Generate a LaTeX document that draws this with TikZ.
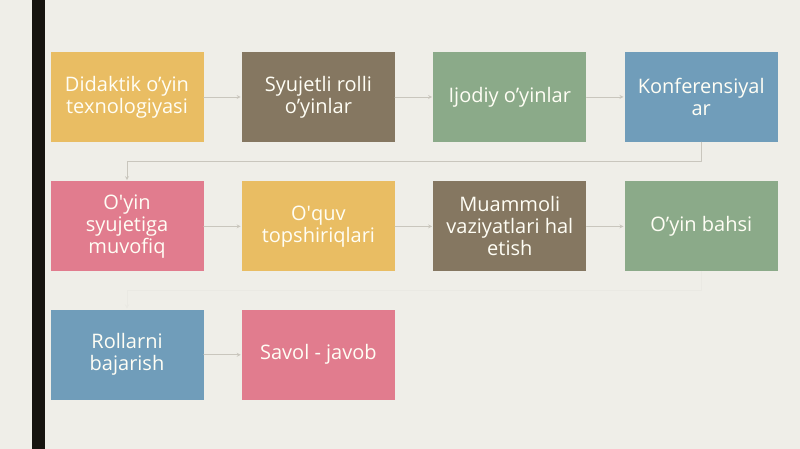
\documentclass[tikz,border=0pt]{standalone}
\usepackage{fontspec}
\setmainfont{Open Sans}
\usetikzlibrary{positioning}
\definecolor{bgpaper}{HTML}{EFEEE8}
\definecolor{barblack}{HTML}{16140F}
\definecolor{cyellow}{HTML}{E9BD63}
\definecolor{cbrown}{HTML}{857761}
\definecolor{cgreen}{HTML}{8BAA89}
\definecolor{cblue}{HTML}{709DBA}
\definecolor{cpink}{HTML}{E17C8E}
\definecolor{clink}{HTML}{C9C6BD}
\begin{document}
\begin{tikzpicture}[x=1pt,y=1pt,>=stealth, line join=round, line cap=round,
	node distance=38pt and 38pt,
	box/.style={minimum width=153pt, minimum height=90pt, inner sep=0pt, align=center, text=white!96!yellow, font=\fontsize{20}{22}\selectfont},
	link/.style={->, draw=clink, line width=0.8pt, shorten >=1pt}]
	\def\W{800} \def\H{449}
	\fill[bgpaper] (0,0) rectangle (\W,\H);
	\useasboundingbox (0,0) rectangle (\W,\H);
	\fill[barblack] (32,0) rectangle (45,\H);
	% row 1
	\node[box, fill=cyellow] (didaktik) at (127,352) {Didaktik o’yin\\texnologiyasi};
	\node[box, fill=cbrown, right=of didaktik] (syujetli) {Syujetli rolli\\o’yinlar};
	\node[box, fill=cgreen, right=of syujetli] (ijodiy) {Ijodiy o’yinlar};
	\node[box, fill=cblue, right=of ijodiy] (konf) {Konferensiyal\\ar};
	% row 2
	\node[box, fill=cpink, below=39pt of didaktik] (muvofiq) {O\textquotesingle yin\\syujetiga\\muvofiq};
	\node[box, fill=cyellow, right=of muvofiq] (topshiriq) {O\textquotesingle quv\\topshiriqlari};
	\node[box, fill=cbrown, right=of topshiriq] (muammoli) {Muammoli\\vaziyatlari hal\\etish};
	\node[box, fill=cgreen, right=of muammoli] (bahs) {O’yin bahsi};
	% row 3
	\node[box, fill=cblue, below=of muvofiq] (rollar) {Rollarni\\bajarish};
	\node[box, fill=cpink, right=of rollar] (savol) {Savol - javob};
	% connectors
	\draw[link] (didaktik) -- (syujetli);
	\draw[link] (syujetli) -- (ijodiy);
	\draw[link] (ijodiy) -- (konf);
	\draw[link] (konf.south) -- ++(0,-19.5) -| (muvofiq.north);
	\draw[link] (muvofiq) -- (topshiriq);
	\draw[link] (topshiriq) -- (muammoli);
	\draw[link] (muammoli) -- (bahs);
	\draw[link, draw=bgpaper!98!black] (bahs.south) -- ++(0,-19) -| (rollar.north);
	\draw[link] (rollar) -- (savol);
\end{tikzpicture}
\end{document}
